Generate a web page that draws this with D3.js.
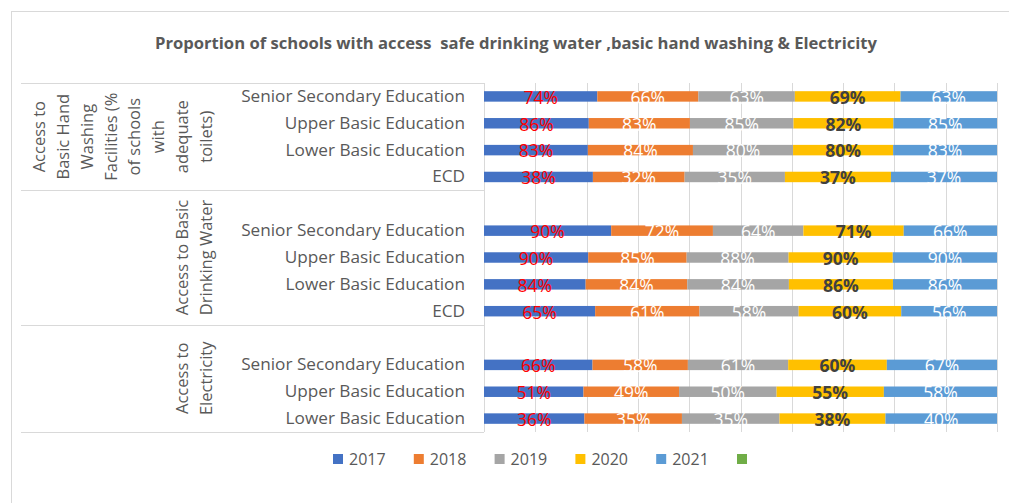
<!DOCTYPE html>
<html>
<head>
<meta charset="utf-8">
<script src="https://cdn.jsdelivr.net/npm/d3@7"></script>
<style>
  html, body { margin: 0; padding: 0; background: #fff; overflow: hidden; }
  svg { display: block; font-family: 'Open Sans', sans-serif; }
</style>
</head>
<body>
<svg id="chart" width="1009" height="503"></svg>
<script>
'use strict';

// ── Data ──────────────────────────────────────────────────────────────────
const years  = ['2017', '2018', '2019', '2020', '2021'];
const levels = ['Senior Secondary Education', 'Upper Basic Education', 'Lower Basic Education', 'ECD'];

const handWashing = [[74, 66, 63, 69, 63], [86, 83, 85, 82, 85], [83, 84, 80, 80, 83], [38, 32, 35, 37, 37]];
const water       = [[90, 72, 64, 71, 66], [90, 85, 88, 90, 90], [84, 84, 84, 86, 86], [65, 61, 58, 60, 56]];
const electricity = [[66, 58, 61, 60, 67], [51, 49, 50, 55, 58], [36, 35, 35, 38, 40]];

const groupLines = [
  ['Access to', 'Basic Hand', 'Washing', 'Facilities (%', 'of schools', 'with', 'adequate', 'toilets)'],
  ['Access to Basic', 'Drinking Water'],
  ['Access to', 'Electricity']
];
// each group: its values and whether Excel left an empty category slot on top
const groupValues = [handWashing, water, electricity];
const groupBlank  = [false, true, true];

const title = 'Proportion of schools with access  safe drinking water ,basic hand washing & Electricity';

// ── Style ─────────────────────────────────────────────────────────────────
const colors      = ['#4472C4', '#ED7D31', '#A5A5A5', '#FFC000', '#5B9BD5'];
const extraColor  = '#70AD47';
const labelColors = ['#FF0000', '#FFFFFF', '#FFFFFF', '#404040', '#FFFFFF'];
const GRID = '#D9D9D9';
const TEXT = '#595959';

// ── Rows (top to bottom) ──────────────────────────────────────────────────
const rows = [];
const groupSpans = [];
groupValues.forEach((vals, gi) => {
  if (groupBlank[gi]) rows.push({ key: `g${gi}-blank`, label: '', blank: true });
  vals.forEach((v, i) => {
    const r = { key: `g${gi}-${i}`, label: levels[i], blank: false };
    years.forEach((yr, k) => { r[yr] = v[k]; });
    rows.push(r);
  });
  groupSpans.push({ last: rows[rows.length - 1].key, gi });
});

// ── Layout ────────────────────────────────────────────────────────────────
const X0 = 484, X1 = 997;
const Y0 = 83,  Y1 = 432;

const svg = d3.select('#chart');

// outer chart border (cropped on right / bottom)
svg.append('rect')
  .attr('x', 11.5).attr('y', 11.5)
  .attr('width', 1010).attr('height', 510)
  .attr('fill', 'none').attr('stroke', GRID);

svg.append('text')
  .attr('x', 516).attr('y', 49)
  .attr('text-anchor', 'middle')
  .attr('font-size', '16px')
  .attr('font-weight', 'bold')
  .attr('fill', TEXT)
  .style('white-space', 'pre')
  .attr('textLength', 722).attr('lengthAdjust', 'spacingAndGlyphs')
  .text(title);

const x = d3.scaleLinear().domain([0, 1]).range([X0, X1]);
const y = d3.scaleBand()
  .domain(rows.map(r => r.key))
  .range([Y0, Y1])
  .paddingInner(0.61).paddingOuter(0.305);

// gridlines
svg.append('g')
  .attr('transform', `translate(0, ${Y1})`)
  .call(d3.axisBottom(x).ticks(10).tickSize(-(Y1 - Y0)).tickFormat(''))
  .call(ax => ax.select('.domain').remove())
  .call(ax => ax.selectAll('line').attr('stroke', GRID).attr('shape-rendering', 'crispEdges'));

// left axis line
svg.append('line')
  .attr('x1', X0).attr('x2', X0).attr('y1', Y0).attr('y2', Y1)
  .attr('stroke', GRID).attr('shape-rendering', 'crispEdges');

// group separators
const step = y.step();
const sepY = [Y0];
groupSpans.forEach(g => {
  const top = y(g.last) - (step - y.bandwidth()) / 2;
  sepY.push(top + step);
});
svg.append('g').selectAll('line')
  .data(sepY)
  .join('line')
  .attr('x1', 21).attr('x2', X0)
  .attr('y1', d => Math.round(d) + 0.5).attr('y2', d => Math.round(d) + 0.5)
  .attr('stroke', GRID);

// category axis
svg.append('g')
  .attr('transform', `translate(${X0}, 0)`)
  .call(d3.axisLeft(y).tickSize(0).tickPadding(19)
    .tickFormat(k => rows.find(r => r.key === k).label))
  .call(ax => ax.select('.domain').remove())
  .call(ax => ax.selectAll('text')
    .attr('font-size', '17.2px')
    .attr('font-family', "'Open Sans', sans-serif")
    .attr('fill', TEXT));

// group labels (rotated)
groupSpans.forEach((g, i) => {
  const cy = (sepY[i] + sepY[i + 1]) / 2;
  const lines = groupLines[g.gi];
  const n = lines.length;
  lines.forEach((ln, j) => {
    const lx = 206 - (n - 1 - j) * 23.8;
    svg.append('text')
      .attr('transform', `translate(${lx}, ${cy}) rotate(-90)`)
      .attr('text-anchor', 'middle')
      .attr('dy', '0.35em')
      .attr('font-size', '16.5px')
      .attr('fill', TEXT)
      .text(ln);
  });
});

// ── Stacked bars (100%) ───────────────────────────────────────────────────
const dataRows = rows.filter(r => !r.blank);
const series = d3.stack().keys(years).offset(d3.stackOffsetExpand)(dataRows);

svg.append('g').selectAll('g')
  .data(series)
  .join('g')
  .attr('fill', (d, i) => colors[i])
  .selectAll('rect')
  .data(d => d)
  .join('rect')
  .attr('x', d => x(d[0]))
  .attr('y', d => y(d.data.key))
  .attr('width', d => x(d[1]) - x(d[0]))
  .attr('height', y.bandwidth());

// data labels
svg.append('g').selectAll('g')
  .data(series)
  .join('g')
  .attr('fill', (d, i) => labelColors[i])
  .attr('font-weight', (d, i) => i === 3 ? 'bold' : 'normal')
  .selectAll('text')
  .data(d => d.map(p => ({ p, key: d.key })))
  .join('text')
  .attr('x', d => x((d.p[0] + d.p[1]) / 2))
  .attr('y', d => y(d.p.data.key) + y.bandwidth() / 2)
  .attr('dy', '0.42em')
  .attr('text-anchor', 'middle')
  .attr('font-size', '17.5px')
  .text(d => d.p.data[d.key] + '%');

// ── Legend ────────────────────────────────────────────────────────────────
const legendItems = years.map((yr, i) => ({ label: yr, color: colors[i] }))
  .concat([{ label: '', color: extraColor }]);

const li = svg.append('g').attr('transform', 'translate(333, 454)')
  .selectAll('g')
  .data(legendItems)
  .join('g')
  .attr('transform', (d, i) => `translate(${i * 80.8}, 0)`);
li.append('rect')
  .attr('width', 10).attr('height', 10)
  .attr('fill', d => d.color);
li.append('text')
  .attr('x', 16).attr('y', 5).attr('dy', '0.36em')
  .attr('font-size', '16px')
  .attr('fill', TEXT)
  .text(d => d.label);
</script>
</body>
</html>
